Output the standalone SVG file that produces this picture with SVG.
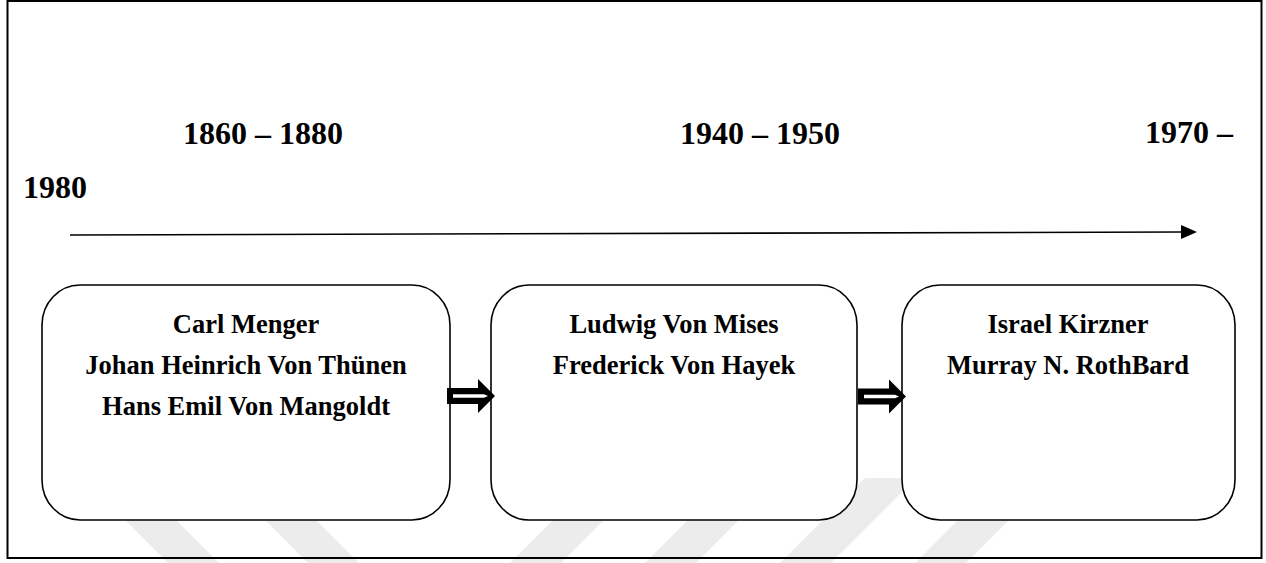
<svg xmlns="http://www.w3.org/2000/svg" width="1266" height="563" viewBox="0 0 1266 563">
<style>
.yr{font-family:"Liberation Serif","Times New Roman",serif;font-weight:bold;font-size:32px;fill:#000}
.nm{font-family:"Liberation Serif","Times New Roman",serif;font-weight:bold;font-size:26.5px;fill:#000;text-anchor:middle}
.box{fill:#fff;stroke:#000;stroke-width:1.6}
.wm{fill:#ececec}
</style>
<defs>
<marker id="ah" markerUnits="userSpaceOnUse" markerWidth="16" markerHeight="14" refX="1" refY="7" orient="auto">
<path d="M0,0 L16,7 L0,14 z" fill="#000"/>
</marker>
<g id="blk">
<polygon points="0,-8 31,-8 31,-17 48,0 31,17 31,8 0,8" fill="#000"/>
<polygon points="6,-1.7 37,-1.7 41,0 37,1.7 6,1.7" fill="#fff"/>
</g>
</defs>
<rect width="1266" height="563" fill="#fff"/>
<g id="watermark">
<polygon class="wm" points="83,478 134,478 219,563 168,563"/>
<polygon class="wm" points="223,478 274,478 359,563 308,563"/>
<polygon class="wm" points="595,478 646,478 561,563 510,563"/>
<polygon class="wm" points="730,478 781,478 696,563 645,563"/>
<polygon class="wm" points="865,478 916,478 831,563 780,563"/>
<polygon class="wm" points="1000,478 1051,478 966,563 915,563"/>
</g>
<rect id="frame" x="7.5" y="1" width="1254" height="557" fill="none" stroke="#000" stroke-width="2"/>
<g id="years">
<text class="yr" x="183" y="144">1860 – 1880</text>
<text class="yr" x="680" y="144">1940 – 1950</text>
<text class="yr" x="1145" y="143">1970 –</text>
<text class="yr" x="23" y="198">1980</text>
</g>
<g id="connectors">
<path d="M70,235 L1182,232" stroke="#000" stroke-width="1.6" fill="none" marker-end="url(#ah)"/>
</g>
<g id="node1">
<rect class="box" x="42" y="285" width="408" height="235" rx="38" ry="40"/>
<text class="nm" x="246" y="333">Carl Menger</text>
<text class="nm" x="246" y="374">Johan Heinrich Von Thünen</text>
<text class="nm" x="246" y="415">Hans Emil Von Mangoldt</text>
</g>
<g id="node2">
<rect class="box" x="491" y="285" width="366" height="235" rx="38" ry="40"/>
<text class="nm" x="674" y="333">Ludwig Von Mises</text>
<text class="nm" x="674" y="374">Frederick Von Hayek</text>
</g>
<g id="node3">
<rect class="box" x="902" y="285" width="333" height="235" rx="38" ry="40"/>
<text class="nm" x="1068" y="333">Israel Kirzner</text>
<text class="nm" x="1068" y="374">Murray N. RothBard</text>
</g>
<g id="block-arrows">
<use href="#blk" x="447" y="396"/>
<use href="#blk" x="858" y="396.5"/>
</g>
</svg>
